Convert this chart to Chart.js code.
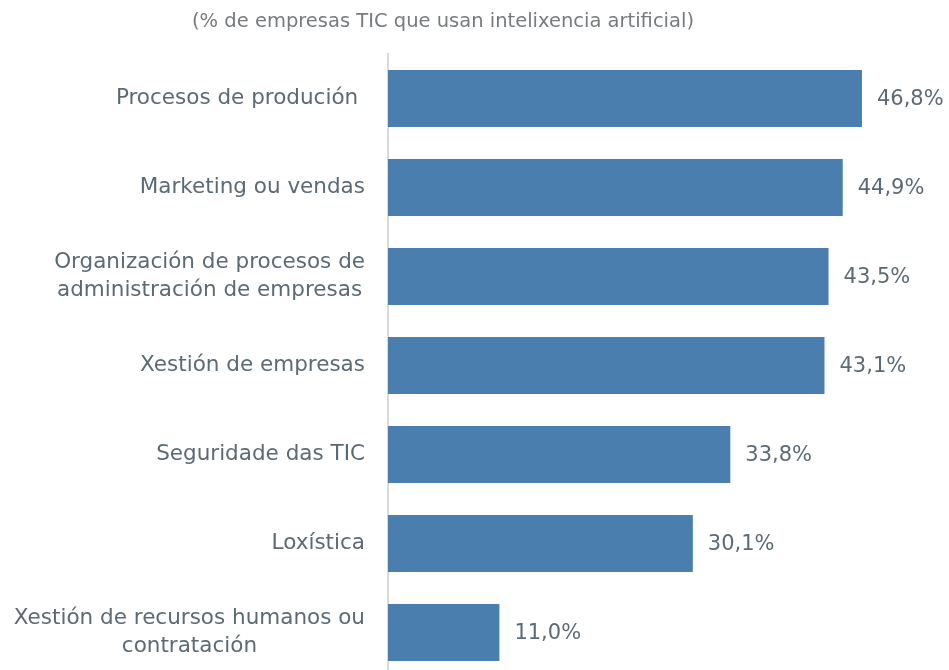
<!DOCTYPE html>
<html>
<head>
<meta charset="utf-8">
<script src="https://cdn.jsdelivr.net/npm/chart.js@4"></script>
<style>
  html, body { margin: 0; padding: 0; background: #ffffff; overflow: hidden; }
  #wrap { position: relative; width: 949px; height: 690px; }
</style>
</head>
<body>
<div id="wrap"><canvas id="chart" width="949" height="690"></canvas></div>
<script>
// Usos da intelixencia artificial nas empresas TIC
const titleText = '(% de empresas TIC que usan intelixencia artificial)';
const categories = [
  ['Procesos de produción '],
  ['Marketing ou vendas'],
  ['Organización de procesos de', 'administración de empresas'],
  ['Xestión de empresas'],
  ['Seguridade das TIC'],
  ['Loxística'],
  ['Xestión de recursos humanos ou', 'contratación']
];
const values = [46.8, 44.9, 43.5, 43.1, 33.8, 30.1, 11.0];

const FONT = '"DejaVu Sans", sans-serif';
const TEXT_COLOR = '#5c6a73';
const BAR_COLOR = '#4a7eae';

const fmt = v => v.toFixed(1).replace('.', ',') + '%';

// Draws the category labels as right-aligned blocks with centred lines,
// the value labels at the bar ends, and the caption above the plot.
const labelsPlugin = {
  id: 'labelsPlugin',
  afterDatasetsDraw(chart) {
    const ctx = chart.ctx;
    const yScale = chart.scales.y;
    const meta = chart.getDatasetMeta(0);
    ctx.save();
    ctx.fillStyle = TEXT_COLOR;
    ctx.textBaseline = 'middle';

    // category labels
    ctx.font = '21.5px ' + FONT;
    const lineH = 28;
    const rightEdge = yScale.right - 23;
    categories.forEach((lines, i) => {
      const cy = yScale.getPixelForTick(i);
      const widest = Math.max(...lines.map(l => ctx.measureText(l).width));
      const cx = rightEdge - widest / 2;
      ctx.textAlign = 'center';
      lines.forEach((l, k) => {
        const y = cy + (k - (lines.length - 1) / 2) * lineH;
        ctx.fillText(l, cx, y);
      });
    });

    // value labels
    ctx.font = '21px ' + FONT;
    ctx.textAlign = 'left';
    meta.data.forEach((bar, i) => {
      ctx.fillText(fmt(values[i]), bar.x + 15, bar.y + 1);
    });

    // caption
    ctx.font = '19.5px ' + FONT;
    ctx.fillStyle = '#777b7e';
    ctx.textAlign = 'center';
    ctx.fillText(titleText, 443, 22);
    ctx.restore();
  }
};

new Chart(document.getElementById('chart'), {
  type: 'bar',
  data: {
    labels: categories,
    datasets: [{
      data: values,
      backgroundColor: BAR_COLOR,
      borderWidth: 0,
      categoryPercentage: 0.64,
      barPercentage: 1
    }]
  },
  options: {
    indexAxis: 'y',
    responsive: false,
    animation: false,
    layout: { padding: { top: 54, bottom: 13, left: 0, right: 4 } },
    plugins: {
      legend: { display: false },
      title: { display: false },
      tooltip: { enabled: false }
    },
    scales: {
      x: {
        min: 0,
        max: 55,
        display: false,
        grid: { display: false }
      },
      y: {
        afterFit(scale) { scale.width = 388; },
        ticks: { display: false },
        grid: { display: false, drawTicks: false },
        border: { display: true, color: '#d9d9d9', width: 2 }
      }
    }
  },
  plugins: [labelsPlugin]
});
</script>
</body>
</html>
